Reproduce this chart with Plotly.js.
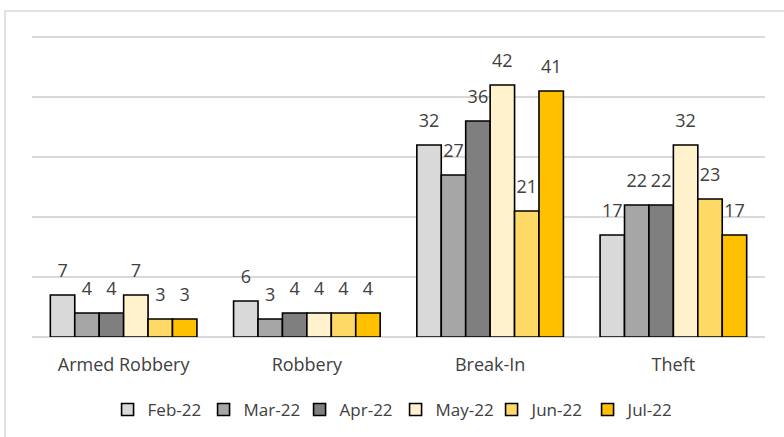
<!DOCTYPE html>
<html>
<head>
<meta charset="utf-8">
<script src="https://cdn.plot.ly/plotly-3.0.1.min.js"></script>
<style>
html,body{margin:0;padding:0;background:#fff;}
#chart{width:784px;height:437px;}
</style>
</head>
<body>
<div id="chart"></div>
<script>
const categories = ["Armed Robbery", "Robbery", "Break-In", "Theft"];
const months = ["Feb-22", "Mar-22", "Apr-22", "May-22", "Jun-22", "Jul-22"];
const feb22 = [7, 6, 32, 17];
const mar22 = [4, 3, 27, 22];
const apr22 = [4, 4, 36, 22];
const may22 = [7, 4, 42, 32];
const jun22 = [3, 4, 21, 23];
const jul22 = [3, 4, 41, 17];
const seriesValues = [feb22, mar22, apr22, may22, jun22, jul22];
const colors = ["#D9D9D9", "#A6A6A6", "#7F7F7F", "#FFF2CC", "#FFD966", "#FFC000"];

const FONT = "Open Sans, Noto Sans, sans-serif";

const barTraces = months.map((m, i) => ({
  type: "bar",
  name: m,
  x: categories,
  y: seriesValues[i],
  marker: {color: colors[i], line: {color: "#000000", width: 1.6}},
  hoverinfo: "x+y+name"
}));

const labelTraces = months.map((m, i) => ({
  type: "scatter",
  mode: "markers+text",
  name: m + " labels",
  showlegend: false,
  x: categories,
  y: seriesValues[i],
  text: seriesValues[i].map(String),
  textposition: "top center",
  cliponaxis: false,
  textfont: {family: FONT, size: 18, color: "#404040"},
  marker: {size: 20, color: "rgba(0,0,0,0)", line: {width: 0}},
  hoverinfo: "skip"
}));

// plot area: 6 px per unit; range 0..51 -> 306 px, bottom edge at y=337
const layout = {
  width: 784,
  height: 437,
  margin: {l: 32, r: 19, t: 31, b: 100},
  paper_bgcolor: "#ffffff",
  plot_bgcolor: "#ffffff",
  barmode: "group",
  bargap: 0.2,
  bargroupgap: 0,
  scattermode: "group",
  scattergap: 0.2,
  showlegend: true,
  legend: {
    orientation: "h",
    xref: "paper", x: 0.496, xanchor: "center",
    yref: "container", y: 0.062, yanchor: "middle",
    font: {family: FONT, size: 17, color: "#404040"},
    itemwidth: 30,
    entrywidth: 51,
    traceorder: "normal"
  },
  xaxis: {
    type: "category",
    showgrid: false,
    zeroline: false,
    showline: false,
    ticks: "",
    ticklabelstandoff: 15,
    tickfont: {family: FONT, size: 18, color: "#404040"},
    automargin: false
  },
  yaxis: {
    range: [0, 51],
    dtick: 10,
    showticklabels: false,
    showgrid: true,
    gridcolor: "#D9D9D9",
    gridwidth: 1.5,
    zeroline: true,
    zerolinecolor: "#D9D9D9",
    zerolinewidth: 1.5,
    showline: false,
    fixedrange: true
  },
  shapes: [{
    type: "rect", xref: "paper", yref: "paper",
    x0: -0.0368, x1: 1.2, y0: -0.5, y1: 1.065,
    line: {color: "#D9D9D9", width: 1.5},
    fillcolor: "rgba(0,0,0,0)", layer: "below"
  }],
  annotations: [{
    xref: "paper", yref: "paper",
    x: -0.0368, xanchor: "left",
    y: 1.088, yanchor: "bottom",
    text: "MONTHLY CRIME BREAKDOWN",
    showarrow: false,
    font: {family: FONT, size: 22, color: "#D0D0D0"}
  }]
};

Plotly.newPlot("chart", barTraces.concat(labelTraces), layout, {displayModeBar: false, staticPlot: true});
</script>
</body>
</html>
